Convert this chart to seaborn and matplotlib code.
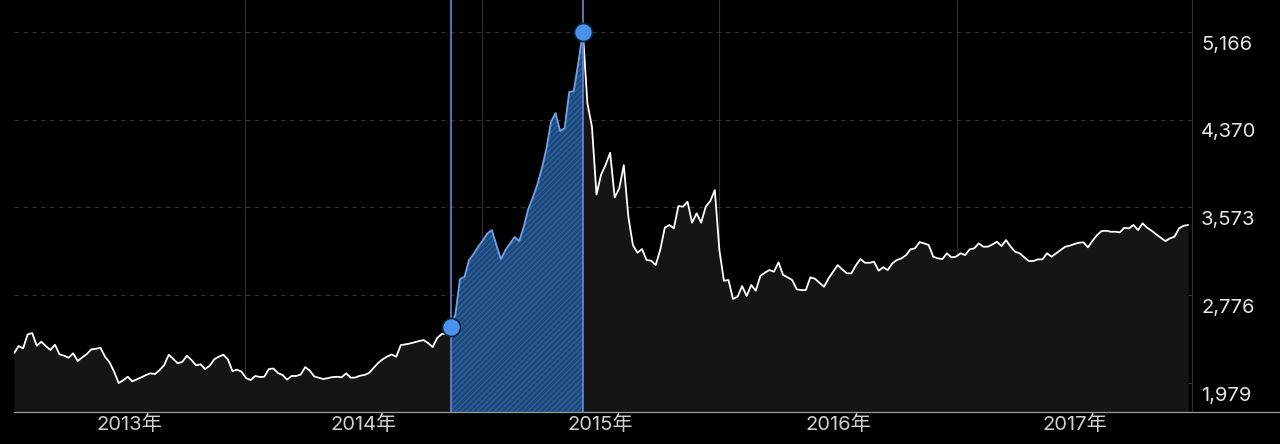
import numpy as np
import pandas as pd
import matplotlib
matplotlib.use("Agg")
import matplotlib.pyplot as plt
import matplotlib.dates as mdates
import seaborn as sns

# weekly closes
start_date = "2013-01-11"
closes = [
    2249, 2315, 2294, 2421, 2433, 2318, 2354, 2315, 2279, 2327,
    2240, 2227, 2209, 2249, 2179, 2212, 2242, 2285, 2290, 2300,
    2218, 2167, 2082, 1979, 2004, 2036, 1994, 2013, 2031, 2052,
    2067, 2061, 2097, 2142, 2236, 2197, 2158, 2172, 2227, 2188,
    2140, 2149, 2106, 2136, 2194, 2218, 2236, 2194, 2088, 2100,
    2082, 2024, 2006, 2043, 2034, 2036, 2106, 2111, 2070, 2052,
    2011, 2043, 2043, 2056, 2124, 2091, 2038, 2027, 2015, 2024,
    2033, 2036, 2031, 2067, 2027, 2029, 2045, 2052, 2070, 2115,
    2161, 2194, 2220, 2238, 2218, 2324, 2330, 2338, 2349, 2360,
    2369, 2342, 2306, 2388, 2424, 2424, 2490, 2606, 2923, 2944,
    3096, 3150, 3218, 3273, 3336, 3368, 3232, 3105, 3187, 3246,
    3305, 3268, 3395, 3559, 3663, 3781, 3931, 4108, 4349, 4431,
    4267, 4294, 4621, 4630, 4885, 5166, 4519, 4306, 3690, 3870,
    3960, 4070, 3665, 3747, 3958, 3489, 3232, 3162, 3196, 3096,
    3090, 3050, 3187, 3389, 3414, 3384, 3586, 3580, 3625, 3435,
    3520, 3435, 3580, 3632, 3731, 3187, 2908, 2914, 2742, 2763,
    2860, 2769, 2869, 2817, 2951, 2981, 3005, 2990, 3075, 2960,
    2939, 2914, 2830, 2823, 2823, 2939, 2926, 2890, 2853, 2930,
    2990, 3050, 3011, 2975, 2975, 3048, 3105, 3071, 3071, 3080,
    2999, 3030, 3005, 3066, 3096, 3111, 3139, 3193, 3202, 3259,
    3247, 3232, 3126, 3111, 3105, 3157, 3120, 3126, 3157, 3141,
    3193, 3202, 3247, 3217, 3217, 3238, 3262, 3223, 3277, 3217,
    3171, 3157, 3120, 3087, 3087, 3102, 3102, 3157, 3126, 3157,
    3187, 3217, 3226, 3241, 3253, 3257, 3211, 3271, 3323, 3359,
    3362, 3353, 3353, 3347, 3389, 3383, 3414, 3368, 3429, 3389,
    3362, 3329, 3298, 3268, 3293, 3307, 3383, 3407, 3414,
]
sel_start, sel_end = 96, 125

y_ticks = [1979, 2776, 3573, 4370, 5166]
y_tick_labels = ["1,979", "2,776", "3,573", "4,370", "5,166"]
year_starts = ["2013-01-01", "2014-01-01", "2015-01-01", "2016-01-01", "2017-01-01", "2018-01-01"]
year_labels = ["2013年", "2014年", "2015年", "2016年", "2017年"]

dates = pd.date_range(start_date, periods=len(closes), freq="7D")
df = pd.DataFrame({"date": dates, "close": closes})
sel = df.iloc[sel_start:sel_end + 1]

sns.set_theme(style="dark")
plt.rcParams["font.family"] = ["Inter", "Noto Sans CJK SC", "DejaVu Sans"]
plt.rcParams["hatch.linewidth"] = 0.6

fig = plt.figure(figsize=(12.8, 4.44), dpi=100, facecolor="black")
ax = fig.add_axes([14 / 1280, 32 / 444, 1178 / 1280, 412 / 444])
ax.set_facecolor("black")

ybot, ytop = 1716, 5457
x0 = dates[0]
x1 = dates[-1] + pd.Timedelta(days=6)

# grid
for v in y_ticks:
    ax.axhline(v, color="#343434", lw=0.8, dashes=(4, 4), zorder=1)

# area + line
ax.fill_between(df["date"], df["close"], ybot, color="#151515", lw=0, zorder=2)
ax.fill_between(sel["date"], sel["close"], ybot, facecolor="#1d4a7e",
                edgecolor="#3a6aa3", hatch="//////", lw=0, zorder=3)
sns.lineplot(data=df.iloc[:sel_start + 1], x="date", y="close", color="white", lw=1.3, ax=ax, zorder=4)
sns.lineplot(data=df.iloc[sel_end:], x="date", y="close", color="white", lw=1.3, ax=ax, zorder=4)
sns.lineplot(data=sel, x="date", y="close", color="#6fa3e6", lw=1.3, ax=ax, zorder=4)

for d in [dates[sel_start], dates[sel_end]]:
    ax.axvline(d, color="#6a86d4", lw=1.2, zorder=5)
ax.plot([dates[sel_start], dates[sel_end]], [closes[sel_start], closes[sel_end]], "o",
        ms=13, mfc="#4b92ea", mec="#0c2440", mew=1.2, zorder=6)

ax.set_xlim(x0, x1)
ax.set_ylim(ybot, ytop)

# x axis: year boundaries as ticks, labels centred in each year
bounds = [pd.Timestamp(s) for s in year_starts]
ax.set_xticks([mdates.date2num(b) for b in bounds[1:-1]])
ax.set_xticklabels([])
ax.tick_params(axis="x", which="major", length=15, width=0.8, color="#2e2e2e", direction="out")
mids = []
for a, b in zip(bounds[:-1], bounds[1:]):
    a = max(a, x0)
    b = min(b, x1)
    mids.append(mdates.date2num(a) + (mdates.date2num(b) - mdates.date2num(a)) / 2)
ax.set_xticks(mids, minor=True)
ax.set_xticklabels(year_labels, minor=True, fontsize=14.5, color="#d0d0d0")
ax.tick_params(axis="x", which="minor", length=0, pad=2)
ax.grid(axis="x", which="major", color="#2e2e2e", lw=0.8)
ax.grid(axis="y", visible=False)

ax.set_yticks([])
ax.set_xlabel("")
ax.set_ylabel("")
for s in ["top", "left", "bottom"]:
    ax.spines[s].set_visible(False)
ax.spines["right"].set_color("#2e2e2e")
ax.spines["right"].set_linewidth(0.8)

ax.axhline(ybot, xmin=0, xmax=1266 / 1178, color="#9a9a9a", lw=0.9, clip_on=False, zorder=7)

for v, lbl in zip(y_ticks, y_tick_labels):
    ax.annotate(lbl, xy=(1, v), xycoords=("axes fraction", "data"),
                xytext=(6.5, -9.2), textcoords="offset points",
                ha="left", va="center", fontsize=14.5, color="#e6e6e6")

fig.savefig("out.png", dpi=100, facecolor="black")
